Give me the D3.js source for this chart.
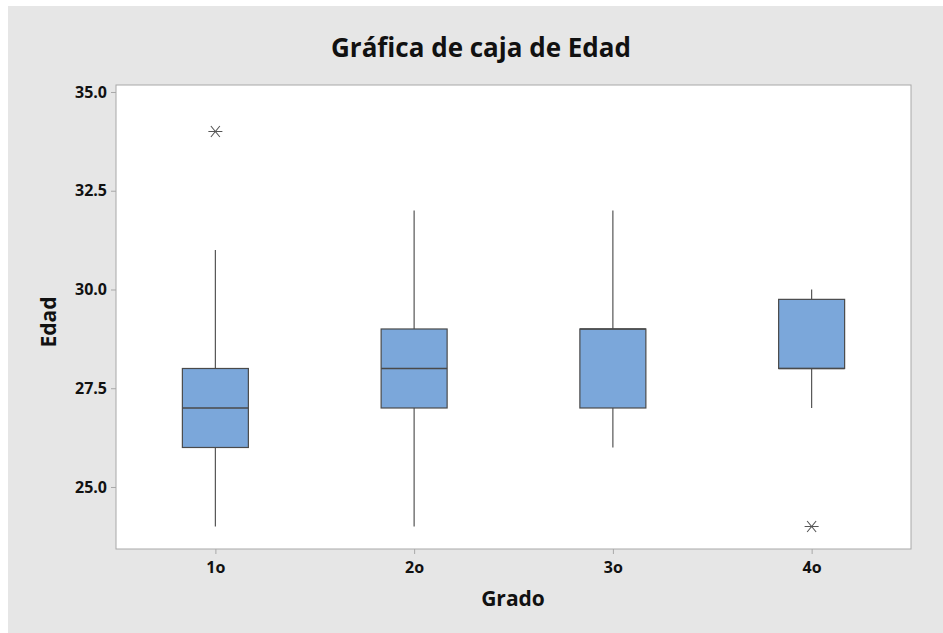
<!DOCTYPE html>
<html><head><meta charset="utf-8">
<script src="https://cdn.jsdelivr.net/npm/d3@7"></script>
<style>body{margin:0;background:#fff}svg{display:block}text{font-family:"Open Sans","Noto Sans",sans-serif;font-weight:bold;fill:#111}</style>
</head><body>
<svg id="c" width="943" height="633"></svg>
<script>
const categories = ["1o","2o","3o","4o"];
const q1 =      [26, 27, 27, 28];
const medians = [27, 28, 29, 28];
const q3 =      [28, 29, 29, 29.75];
const whiskLo = [24, 24, 26, 27];
const whiskHi = [31, 32, 32, 30];
const outliers = [[34], [], [], [24]];
const yTicks = [25.0, 27.5, 30.0, 32.5, 35.0];
const title = "Gráfica de caja de Edad";
const xTitle = "Grado", yTitle = "Edad";

const svg = d3.select("#c");
svg.append("rect").attr("x",8).attr("y",6).attr("width",935).attr("height",627).attr("fill","#e6e6e6");
const L=116, R=911, T=85, B=549;
svg.append("rect").attr("x",L).attr("y",T).attr("width",R-L).attr("height",B-T).attr("fill","#fff").attr("stroke","#a8a8a8").attr("stroke-width",1);

const y = d3.scaleLinear().domain([23.43, 35.177]).range([B, T]);
const x = d3.scalePoint().domain(categories).range([L, R]).padding(0.5);

const yAxis = svg.append("g").attr("transform",`translate(${L},0)`)
  .call(d3.axisLeft(y).tickValues(yTicks).tickFormat(d3.format(".1f")).tickSize(5).tickPadding(4));
yAxis.select(".domain").remove();
yAxis.selectAll("line").attr("stroke","#a8a8a8");
yAxis.selectAll("text").style("font-size","16px").attr("fill","#111");

const xAxis = svg.append("g").attr("transform",`translate(0,${B})`)
  .call(d3.axisBottom(x).tickSize(5).tickPadding(8));
xAxis.select(".domain").remove();
xAxis.selectAll("line").attr("stroke","#a8a8a8");
xAxis.selectAll("text").style("font-size","16px").attr("fill","#111");

const bw = 66;
const g = svg.append("g");
categories.forEach((c,i)=>{
  const cx = x(c);
  g.append("line").attr("x1",cx).attr("x2",cx).attr("y1",y(whiskLo[i])).attr("y2",y(q1[i])).attr("stroke","#555").attr("stroke-width",1.2);
  g.append("line").attr("x1",cx).attr("x2",cx).attr("y1",y(q3[i])).attr("y2",y(whiskHi[i])).attr("stroke","#555").attr("stroke-width",1.2);
  g.append("rect").attr("x",cx-bw/2).attr("y",y(q3[i])).attr("width",bw).attr("height",y(q1[i])-y(q3[i]))
    .attr("fill","#7ba7da").attr("stroke","#4a4a4a").attr("stroke-width",1.2);
  g.append("line").attr("x1",cx-bw/2).attr("x2",cx+bw/2).attr("y1",y(medians[i])).attr("y2",y(medians[i])).attr("stroke","#4a4a4a").attr("stroke-width",1.5);
  outliers[i].forEach(v=>{
    g.append("path").attr("transform",`translate(${cx},${y(v)})`)
      .attr("d","M-7,0H7M-4.5,-5.5L4.5,5.5M-4.5,5.5L4.5,-5.5").attr("stroke","#555").attr("stroke-width",1.1).attr("fill","none");
  });
});

svg.append("text").attr("x",481).attr("y",57).attr("text-anchor","middle").style("font-size","26px").text(title);
svg.append("text").attr("x",513).attr("y",606).attr("text-anchor","middle").style("font-size","21px").text(xTitle);
svg.append("text").attr("transform","translate(56,322) rotate(-90)").attr("text-anchor","middle").style("font-size","21px").text(yTitle);
</script>
</body></html>
